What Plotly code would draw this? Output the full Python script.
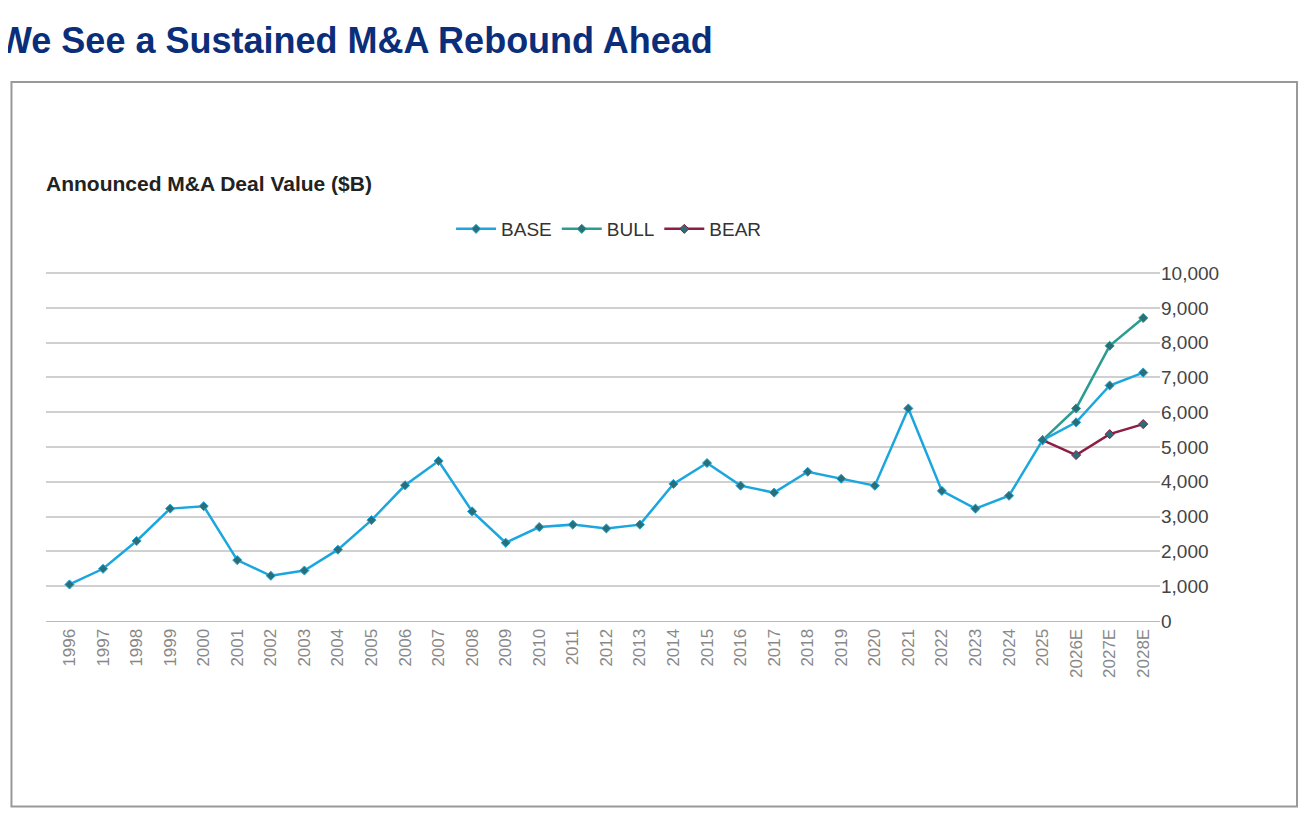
import plotly.graph_objects as go

years = [str(y) for y in range(1996, 2026)] + ["2026E", "2027E", "2028E"]
base = [1050, 1500, 2300, 3230, 3300, 1750, 1300, 1450, 2050, 2900,
        3900, 4600, 3150, 2250, 2700, 2770, 2660, 2770, 3940, 4540,
        3890, 3690, 4290, 4090, 3890, 6110, 3740, 3230, 3600, 5200,
        5710, 6770, 7140]
bull_x = ["2025", "2026E", "2027E", "2028E"]
bull = [5200, 6110, 7910, 8710]
bear_x = ["2025", "2026E", "2027E", "2028E"]
bear = [5200, 4770, 5370, 5660]

fig = go.Figure()
series = [
    ("BULL", bull_x, bull, "#2A9D90", 2),
    ("BEAR", bear_x, bear, "#8C1D44", 3),
    ("BASE", years, base, "#1BA6DE", 1),  # drawn last so it sits on top
]
for name, x, y, col, rank in series:
    fig.add_trace(go.Scatter(
        x=x, y=y, name=name, mode="lines+markers", legendrank=rank,
        line=dict(color=col, width=2.5),
        marker=dict(symbol="diamond", size=7, color="#2a6f78",
                    line=dict(color=col, width=1)),
    ))

fig.update_layout(
    width=1309, height=828,
    paper_bgcolor="white", plot_bgcolor="white",
    font=dict(family="Liberation Sans, Arial", color="#555"),
    margin=dict(l=38, r=157, t=263, b=215),
    showlegend=True,
    legend=dict(orientation="h", x=0.505, xanchor="center", y=1.12, yanchor="middle",
                font=dict(size=19, color="#333"), itemwidth=40),
    xaxis=dict(type="category", categoryorder="array", categoryarray=years,
               tickangle=-90, tickfont=dict(size=17, color="#888"),
               showgrid=False, showline=True, linecolor="#bbb", ticks="",
               range=[-0.7, len(years) - 0.5]),
    yaxis=dict(side="right", range=[0, 10060], dtick=1000, tickformat=",",
               gridcolor="#d0d0d0", gridwidth=1.5, zeroline=False,
               tickfont=dict(size=19, color="#444")),
    shapes=[dict(type="rect", xref="paper", yref="paper",
                 x0=-0.031, x1=1.123, y0=-0.53, y1=1.54,
                 line=dict(color="#999", width=2))],
    annotations=[
        dict(text="<b>We See a Sustained M&A Rebound Ahead</b>", xref="paper", yref="paper",
             x=-0.045, y=1.66, xanchor="left", yanchor="middle", showarrow=False,
             font=dict(size=36, color="#0B2E7A", family="Liberation Sans, Arial")),
        dict(text="<b>Announced M&A Deal Value ($B)</b>", xref="paper", yref="paper",
             x=-0.002, y=1.25, xanchor="left", yanchor="middle", showarrow=False,
             font=dict(size=21, color="#222")),
    ],
)

fig.write_html("out.html")
